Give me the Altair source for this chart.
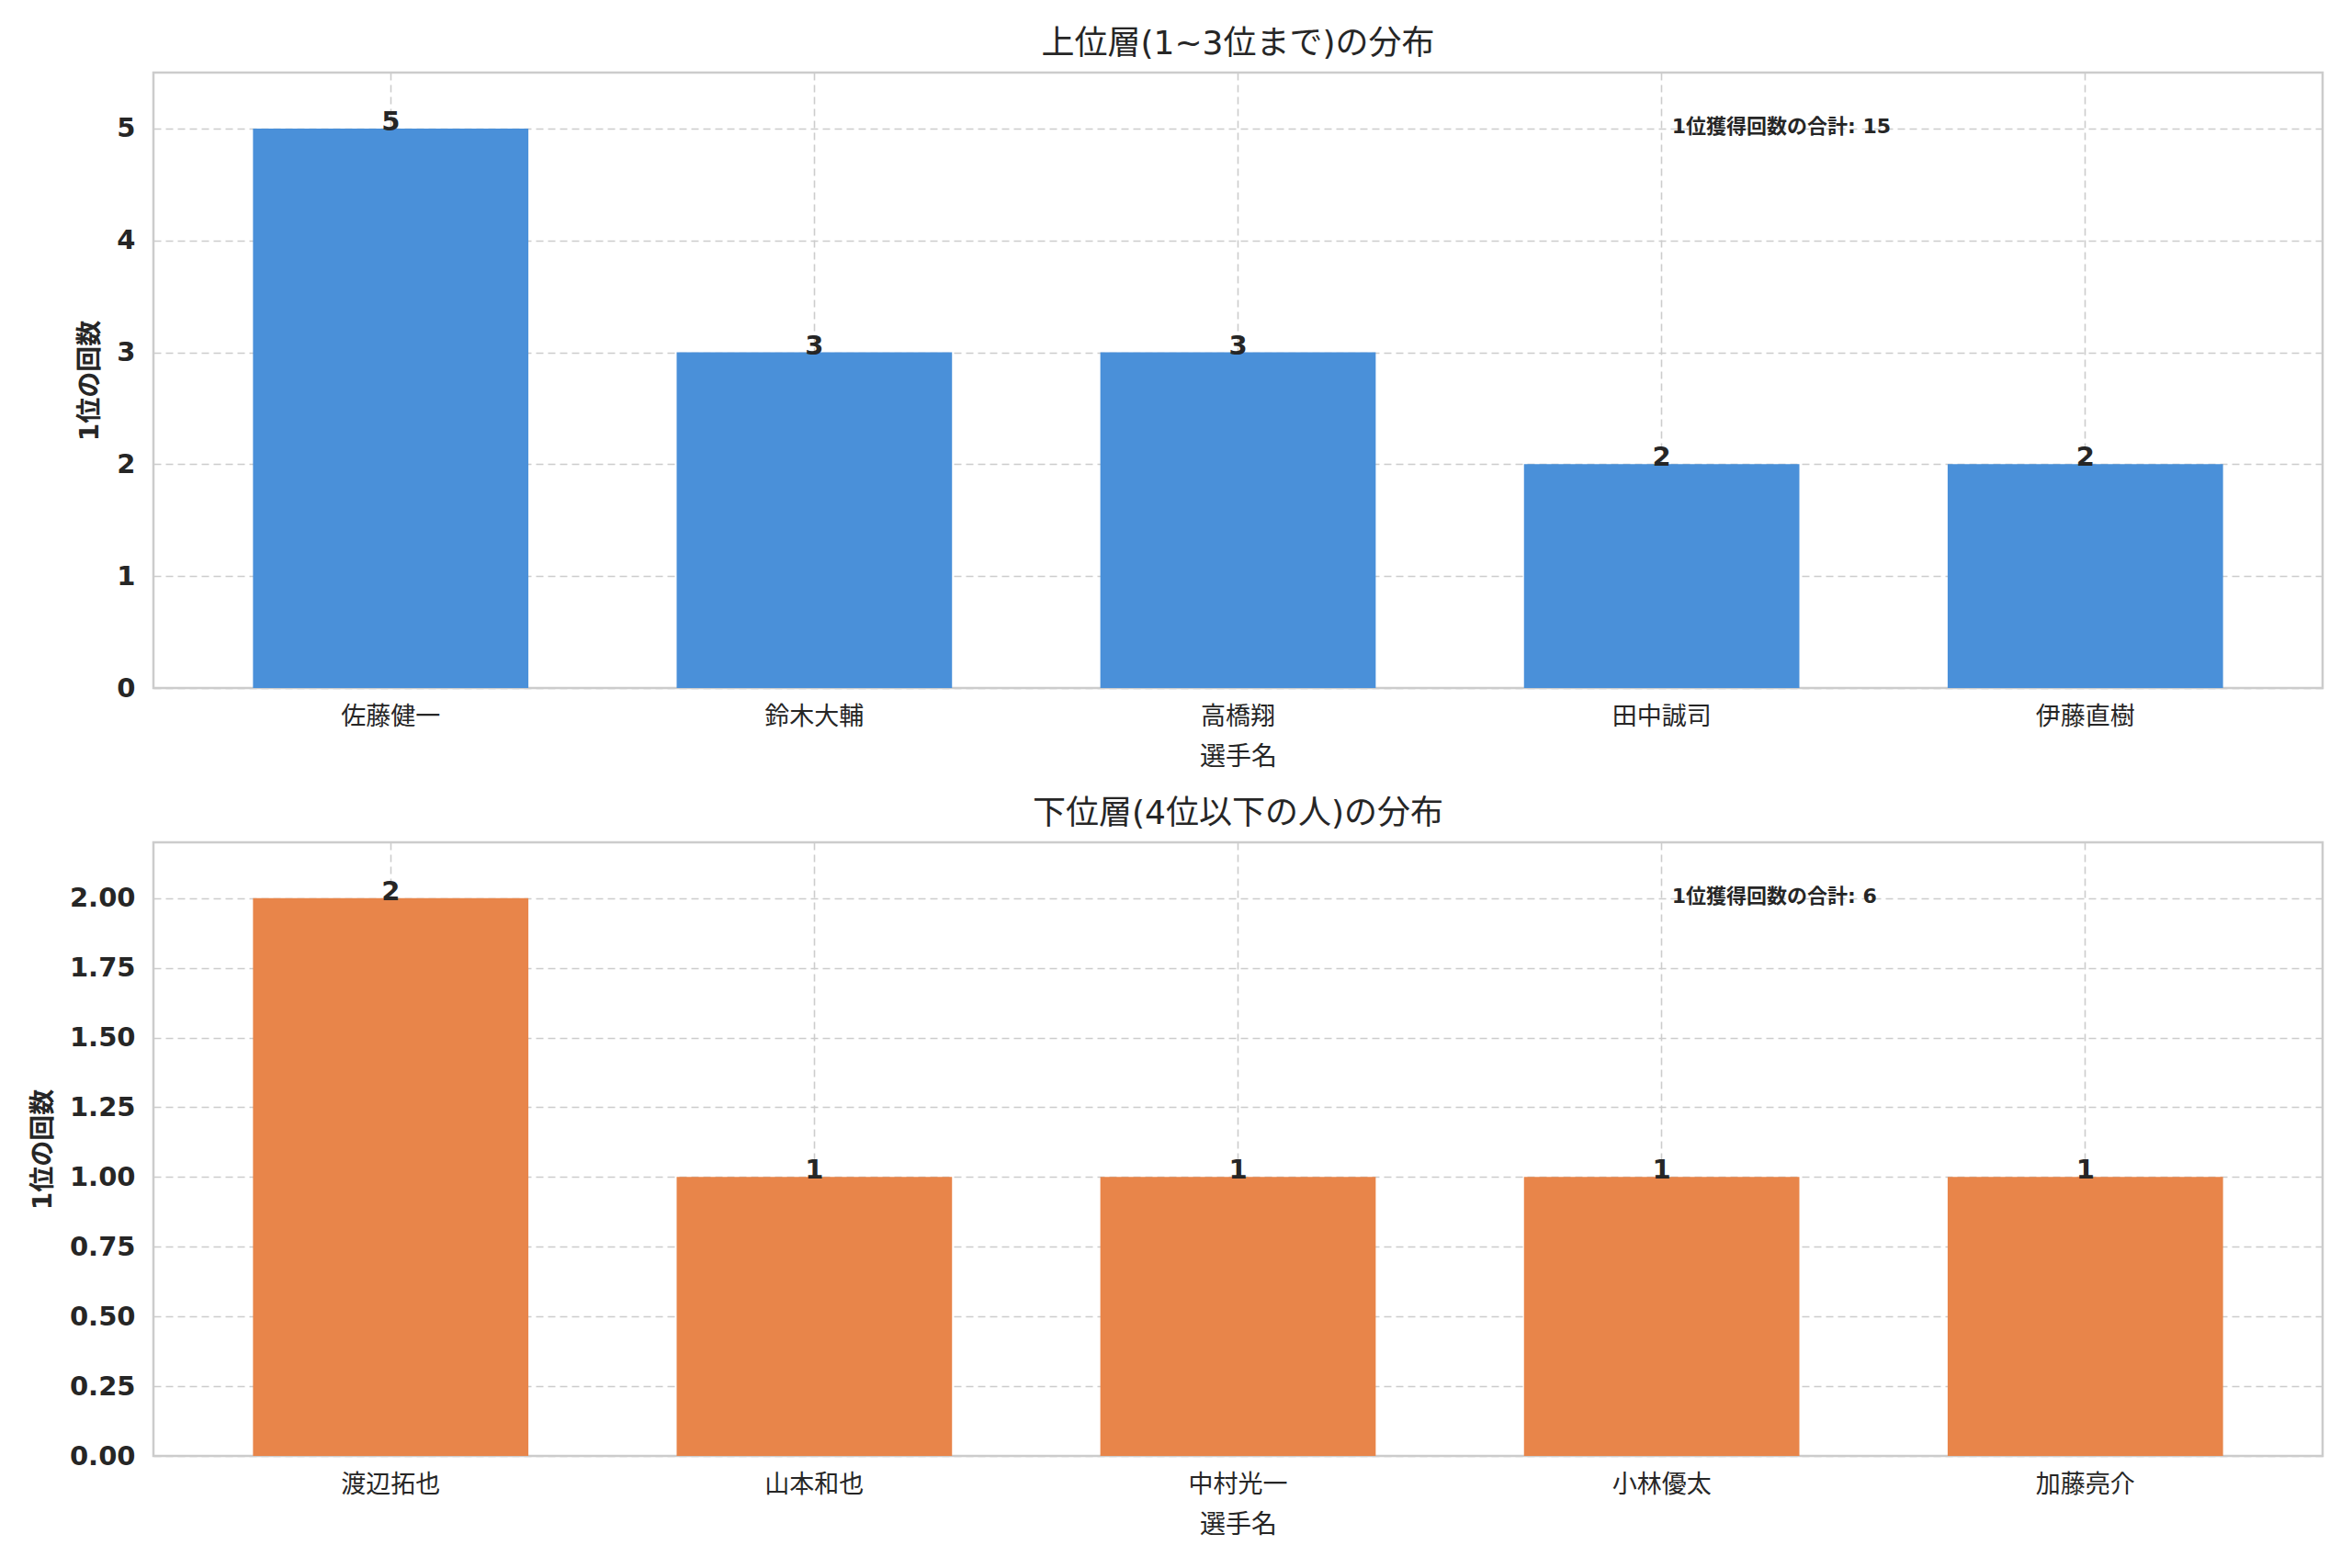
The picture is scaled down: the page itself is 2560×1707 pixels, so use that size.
import altair as alt
import pandas as pd

# ---- data ----
top_names = ["佐藤健一", "鈴木大輔", "高橋翔", "田中誠司", "伊藤直樹"]
top_counts = [5, 3, 3, 2, 2]
bottom_names = ["渡辺拓也", "山本和也", "中村光一", "小林優太", "加藤亮介"]
bottom_counts = [2, 1, 1, 1, 1]

top_title = "上位層(1~3位まで)の分布"
bottom_title = "下位層(4位以下の人)の分布"
x_title = "選手名"
y_title = "1位の回数"
note_label = "1位獲得回数の合計"

top_ticks = [0, 1, 2, 3, 4, 5]
bottom_ticks = [0, 0.25, 0.5, 0.75, 1.0, 1.25, 1.5, 1.75, 2.0]

BLUE = "#4A90D9"
ORANGE = "#E8854A"
TXT = "#262626"
FONT = "DejaVu Sans, Noto Sans CJK JP, sans-serif"

W = 2361


def panel(names, counts, color, title, ymax, yticks, yfmt, height):
    df = pd.DataFrame({"name": names, "count": counts})
    base = alt.Chart(df)
    x = alt.X(
        "name:N",
        sort=names,
        title=x_title,
        scale=alt.Scale(paddingInner=0.35, paddingOuter=0.235),
        axis=alt.Axis(
            labelAngle=0,
            bandPosition=0.5,
            grid=True,
            gridDash=[8, 5],
            gridColor="#cccccc",
            gridWidth=1.6,
            ticks=False,
            domain=False,
            labelFontSize=27,
            labelColor=TXT,
            labelPadding=18,
            titleFontSize=28,
            titleFontWeight="normal",
            titleColor=TXT,
            titlePadding=17,
        ),
    )
    y = alt.Y(
        "count:Q",
        scale=alt.Scale(domain=[0, ymax], nice=False),
        axis=alt.Axis(
            values=yticks,
            format=yfmt,
            grid=True,
            gridDash=[8, 5],
            gridColor="#cccccc",
            gridWidth=1.6,
            ticks=False,
            domain=False,
            labelFontSize=29,
            labelFontWeight="bold",
            labelColor=TXT,
            labelPadding=20,
            title=y_title,
            titleFontSize=28,
            titleFontWeight="bold",
            titleColor=TXT,
            titlePadding=14,
        ),
    )
    bars = base.mark_bar(color=color).encode(x=x, y=y)
    labels = base.mark_text(
        fontSize=29, fontWeight="bold", color=TXT, baseline="alphabetic", dy=2
    ).encode(x=x, y=y, text=alt.Text("count:Q", format="d"))
    note_df = pd.DataFrame({"t": [f"{note_label}: {sum(counts)}"]})
    note = alt.Chart(note_df).mark_text(
        align="left", baseline="middle", fontSize=22, fontWeight="bold", color=TXT
    ).encode(x=alt.value(0.70 * W), y=alt.value(0.088 * height), text="t:N")
    return alt.layer(bars, labels, note).properties(
        width=W,
        height=height,
        title=alt.TitleParams(title, fontSize=36, fontWeight="normal", color=TXT, offset=12),
    )


top = panel(top_names, top_counts, BLUE, top_title, 5.5, top_ticks, "d", 670)
bottom = panel(bottom_names, bottom_counts, ORANGE, bottom_title, 2.2, bottom_ticks, ".2f", 668)

chart = (
    alt.vconcat(top, bottom, spacing=26)
    .properties(padding={"left": 24, "top": 20, "right": 10, "bottom": 10})
    .configure(font=FONT, background="white")
    .configure_view(stroke="#cccccc", strokeWidth=2.5)
)

chart.save("out.html", embed_options={"renderer": "svg", "actions": False})
